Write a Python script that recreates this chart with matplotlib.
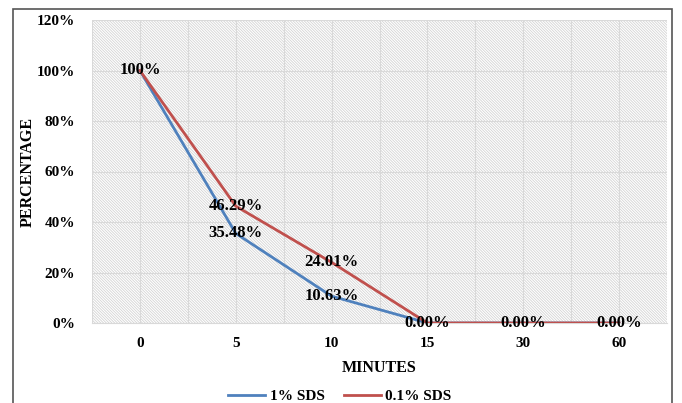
import matplotlib

matplotlib.use('Agg')
import matplotlib.pyplot as plt
from matplotlib.patches import Rectangle
from matplotlib.ticker import FuncFormatter

# data
minutes = ['0', '5', '10', '15', '30', '60']
sds_1 = [100, 35.48, 10.63, 0, 0, 0]
sds_01 = [100, 46.29, 24.01, 0, 0, 0]
labels_1 = ['100%', '35.48%', '10.63%', None, None, None]
labels_01 = [None, '46.29%', '24.01%', '0.00%', '0.00%', '0.00%']

plt.rcParams['font.family'] = ['Liberation Serif', 'DejaVu Serif']
plt.rcParams['font.weight'] = 'bold'
plt.rcParams['hatch.color'] = '#d4d4d4'
plt.rcParams['hatch.linewidth'] = 0.6

fig = plt.figure(figsize=(6.82, 4.03), dpi=100)
ax = fig.add_axes([92 / 682, 80 / 403, 575 / 682, 303 / 403])

x = list(range(len(minutes)))

# hatched plot background
ax.patch.set_facecolor('white')
bg = Rectangle((0, 0), 1, 1, transform=ax.transAxes, facecolor='white',
               hatch='\\' * 12, edgecolor='#d4d4d4', linewidth=0, zorder=0)
ax.add_patch(bg)

ax.plot(x, sds_1, color='#4F81BD', lw=2, label='1% SDS', zorder=3)
ax.plot(x, sds_01, color='#C0504D', lw=2, label='0.1% SDS', zorder=3)

for xi, yi, t in zip(x, sds_1, labels_1):
    if t:
        ax.text(xi, yi, t, ha='center', va='center', fontsize=12, fontweight='bold', zorder=4)
for xi, yi, t in zip(x, sds_01, labels_01):
    if t:
        ax.text(xi, yi, t, ha='center', va='center', fontsize=12, fontweight='bold', zorder=4)

ax.set_xlim(-0.5, len(minutes) - 0.5)
ax.set_ylim(0, 120)
ax.set_xticks(x)
ax.set_xticklabels(minutes)
ax.set_xticks([i + 0.5 for i in range(-1, len(minutes))], minor=True)
ax.set_yticks(range(0, 121, 20))
ax.yaxis.set_major_formatter(FuncFormatter(lambda v, p: '%d%%' % v))
ax.grid(True, which='both', color='#d9d9d9', lw=0.8, zorder=1)
ax.set_axisbelow(True)
ax.tick_params(which='both', length=0, labelsize=11, pad=10)
ax.tick_params(axis='y', pad=12)
for s in ['top', 'right', 'left']:
    ax.spines[s].set_visible(False)
ax.spines['bottom'].set_color('#d9d9d9')

ax.set_xlabel('MINUTES', fontsize=11.5, fontweight='bold', labelpad=7)
ax.set_ylabel('PERCENTAGE', fontsize=11.5, fontweight='bold')
ax.yaxis.set_label_coords((36 - 92) / 575, 0.5)

fig.legend(loc='center', bbox_to_anchor=(340 / 682, 7 / 403), ncol=2, frameon=False,
           fontsize=11, handlelength=2.4, handletextpad=0.3, columnspacing=1.3,
           borderaxespad=0)

# outer chart border
fig.patches.append(Rectangle((13 / 682, -0.05), 659 / 682, 1.05 - 9 / 403, transform=fig.transFigure,
                             fill=False, edgecolor='#555555', lw=1.2))

fig.savefig('out.png', dpi=100)
